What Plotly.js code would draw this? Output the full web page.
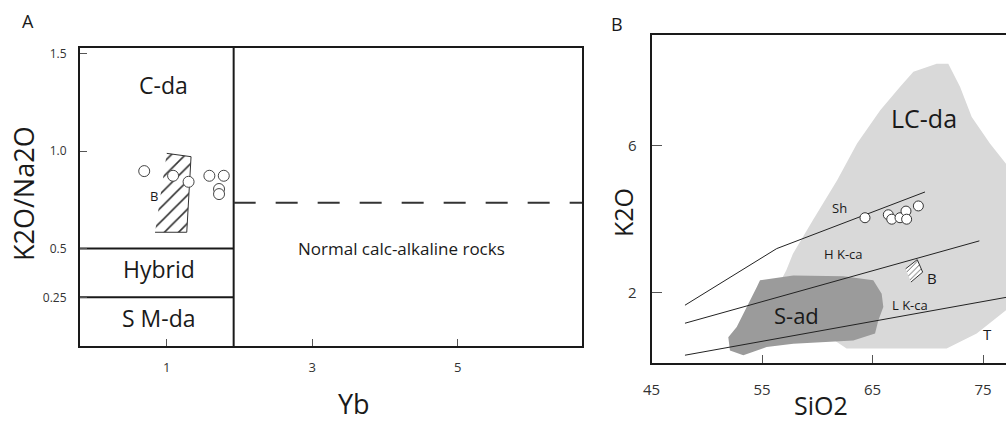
<!DOCTYPE html>
<html><head><meta charset="utf-8">
<script src="https://cdn.plot.ly/plotly-3.0.1.min.js"></script>
<style>html,body{margin:0;padding:0;overflow:hidden;background:#fff;width:1006px;height:423px}#chart{width:1050px;height:423px}</style>
</head><body><div id="chart"></div><script>
// ---------- Panel A : K2O/Na2O vs Yb ----------
const aYbBreak = 1.92;
const aRatioBounds = [0.25, 0.5];
const aDashLevel = 0.736;
const aFieldYb = [1.0, 1.334, 1.275, 0.839];
const aFieldRatio = [0.989, 0.972, 0.584, 0.584];
const aSampleYb = [0.69, 1.087, 1.30, 1.586, 1.784, 1.719, 1.719];
const aSampleRatio = [0.898, 0.874, 0.843, 0.874, 0.874, 0.806, 0.780];
const aYTickVals = [0.25, 0.5, 1.0, 1.5];
const aYTickText = ['0.25', '0.5', '1.0', '1.5'];
const aXTickVals = [1, 3, 5];
const aXTitle = 'Yb';
const aYTitle = 'K2O/Na2O';
const aLabels = ['C-da', 'Hybrid', 'S M-da', 'Normal calc-alkaline rocks', 'B'];
const aLabelYb = [0.953, 0.90, 0.90, 4.23, 0.83];
const aLabelRatio = [1.34, 0.397, 0.142, 0.50, 0.77];

// ---------- Panel B : K2O vs SiO2 ----------
const bLcdaSi = [70.81, 71.86, 72.92, 73.98, 75.63, 77.08, 78.3, 78.3, 77.08, 74.43, 71.71, 62.66, 60.0, 56.5, 57.2, 57.8, 59.6, 61.8, 63.6, 65.7, 67.5, 68.7];
const bLcdaK = [8.22, 8.22, 7.59, 6.77, 6.05, 5.50, 4.8, 2.1, 1.51, 0.88, 0.47, 0.47, 1.0, 2.2, 2.6, 3.05, 3.96, 5.05, 6.05, 6.95, 7.59, 8.0];
const bSadSi = [54.82, 57.83, 62.36, 65.07, 65.83, 65.98, 65.53, 65.23, 63.26, 57.83, 55.42, 53.31, 52.1, 51.95, 52.71, 53.62, 54.52];
const bSadK = [2.33, 2.46, 2.44, 2.33, 1.96, 1.60, 1.24, 0.88, 0.69, 0.60, 0.51, 0.29, 0.42, 0.78, 1.06, 1.60, 2.14];
const bShSi = [48.03, 56.33, 69.75];
const bShK = [1.65, 3.19, 4.73];
const bHkSi = [48.03, 74.67];
const bHkK = [1.16, 3.40];
const bLkSi = [48.03, 78.5];
const bLkK = [0.29, 1.94];
const bFieldSi = [68.0, 69.05, 69.54, 68.48];
const bFieldK = [2.64, 2.89, 2.55, 2.28];
const bSampleSi = [64.32, 66.43, 66.74, 67.49, 68.03, 68.09, 69.15];
const bSampleK = [4.03, 4.11, 3.99, 4.03, 4.21, 3.99, 4.35];
const bXTickVals = [45, 55, 65, 75];
const bYTickVals = [2, 6];
const bXTitle = 'SiO2';
const bYTitle = 'K2O';
const bLabels = ['LC-da', 'S-ad', 'Sh', 'H K-ca', 'L K-ca', 'T', 'B'];
const bLabelSi = [69.7, 58.08, 61.97, 62.4, 68.39, 75.39, 70.36];
const bLabelK = [6.73, 1.39, 4.30, 3.03, 1.65, 0.88, 2.40];

const W = 1050, H = 423;
const FONT = 'Open Sans, Noto Sans, sans-serif';
const INK = '#1a1a1a';

const aXRange = [-0.193, 6.71], aYRange = [0, 1.53];
const bXRange = [45, 79], bYRange = [0.07, 9.0];

const traces = [];
// A: region boundaries
traces.push({x: [aYbBreak, aYbBreak], y: aYRange, xaxis: 'x', yaxis: 'y', mode: 'lines',
  line: {color: INK, width: 2}, hoverinfo: 'skip', showlegend: false});
const hx = [], hy = [];
aRatioBounds.forEach(v => { hx.push(aXRange[0], aYbBreak, null); hy.push(v, v, null); });
traces.push({x: hx, y: hy, xaxis: 'x', yaxis: 'y', mode: 'lines',
  line: {color: INK, width: 2}, hoverinfo: 'skip', showlegend: false});
traces.push({x: [aYbBreak, aXRange[1]], y: [aDashLevel, aDashLevel], xaxis: 'x', yaxis: 'y', mode: 'lines',
  line: {color: '#333', width: 2, dash: '22px,20px'}, hoverinfo: 'skip', showlegend: false});
// A: hatched field B
traces.push({x: aFieldYb, y: aFieldRatio, xaxis: 'x', yaxis: 'y', mode: 'lines', fill: 'toself',
  fillcolor: 'white', fillpattern: {shape: '/', size: 10, solidity: 0.16, fgcolor: '#333', bgcolor: 'white'},
  line: {color: '#333', width: 1}, hoverinfo: 'skip', showlegend: false});
// A: samples
traces.push({x: aSampleYb, y: aSampleRatio, xaxis: 'x', yaxis: 'y', mode: 'markers',
  marker: {symbol: 'circle', size: 11, color: 'white', line: {color: '#444', width: 1}}, showlegend: false});

// B: fields
traces.push({x: bLcdaSi, y: bLcdaK, xaxis: 'x2', yaxis: 'y2', mode: 'none', fill: 'toself',
  fillcolor: '#d9d9d9', hoverinfo: 'skip', showlegend: false});
traces.push({x: bSadSi, y: bSadK, xaxis: 'x2', yaxis: 'y2', mode: 'none', fill: 'toself',
  fillcolor: '#9b9b9b', hoverinfo: 'skip', showlegend: false});
// B: series boundary lines
[[bShSi, bShK], [bHkSi, bHkK], [bLkSi, bLkK]].forEach(([xs, ys]) => {
  traces.push({x: xs, y: ys, xaxis: 'x2', yaxis: 'y2', mode: 'lines',
    line: {color: '#222', width: 1}, hoverinfo: 'skip', showlegend: false});
});
// B: hatched field B
traces.push({x: bFieldSi, y: bFieldK, xaxis: 'x2', yaxis: 'y2', mode: 'lines', fill: 'toself',
  fillcolor: 'white', fillpattern: {shape: '/', size: 4, solidity: 0.2, fgcolor: '#444', bgcolor: 'white'},
  line: {color: '#333', width: 1}, hoverinfo: 'skip', showlegend: false});
// B: samples
traces.push({x: bSampleSi, y: bSampleK, xaxis: 'x2', yaxis: 'y2', mode: 'markers',
  marker: {symbol: 'circle', size: 10, color: 'white', line: {color: '#333', width: 1}}, showlegend: false});

const aSizes = [23, 23, 23, 17, 13];
const bSizes = [25, 22, 13, 13, 13, 15, 15];
const annotations = [];
aLabels.forEach((t, i) => annotations.push({x: aLabelYb[i], y: aLabelRatio[i], xref: 'x', yref: 'y', text: t,
  showarrow: false, font: {family: FONT, size: aSizes[i], color: '#1a1a1a'}}));
bLabels.forEach((t, i) => annotations.push({x: bLabelSi[i], y: bLabelK[i], xref: 'x2', yref: 'y2', text: t,
  showarrow: false, font: {family: FONT, size: bSizes[i], color: '#1a1a1a'}}));
function paperNote(text, px, py, size, angle, anchorY) {
  annotations.push({x: px / W, y: 1 - py / H, xref: 'paper', yref: 'paper', text: text, showarrow: false,
    xanchor: 'center', yanchor: anchorY || 'middle', textangle: angle || 0, borderpad: 0,
    font: {family: FONT, size: size, color: '#1a1a1a'}});
}
// panel letters and axis titles
paperNote('A', 28, 21, 18);
paperNote('B', 617, 24, 18);
paperNote(aXTitle, 354, 403, 27);
paperNote(aYTitle, 23, 194, 27, -90);
paperNote(bXTitle, 821, 423, 25, 0, 'bottom');
paperNote(bYTitle, 623, 213, 25, -90);

const axBase = {showgrid: false, zeroline: false, showline: true, mirror: true, linecolor: INK, linewidth: 2,
  ticks: 'inside', tickcolor: '#555', tickwidth: 1, automargin: false};

const layout = {
  width: W, height: H, margin: {l: 0, r: 0, t: 0, b: 0},
  paper_bgcolor: 'white', plot_bgcolor: 'rgba(0,0,0,0)', showlegend: false,
  font: {family: FONT, color: '#333'},
  xaxis: Object.assign({}, axBase, {domain: [80 / W, 582 / W], range: aXRange, tickvals: aXTickVals, ticklen: 7,
    tickfont: {size: 13, color: '#333'}, ticklabelstandoff: 8, anchor: 'y'}),
  yaxis: Object.assign({}, axBase, {domain: [1 - 346 / H, 1 - 48 / H], range: aYRange, tickvals: aYTickVals,
    ticktext: aYTickText, ticklen: 7, tickfont: {size: 12, color: '#333'}, ticklabelstandoff: 9, anchor: 'x'}),
  xaxis2: Object.assign({}, axBase, {domain: [651.5 / W, (651.5 + 34 * 11.05) / W], range: bXRange,
    tickvals: bXTickVals, ticklen: 8, tickfont: {size: 15, color: '#333'}, ticklabelstandoff: 12, anchor: 'y2'}),
  yaxis2: Object.assign({}, axBase, {domain: [1 - 363.3 / H, 1 - 35 / H], range: bYRange, tickvals: bYTickVals,
    ticklen: 10, tickfont: {size: 15, color: '#333'}, ticklabelstandoff: 10, anchor: 'x2'}),
  annotations: annotations
};

Plotly.newPlot('chart', traces, layout, {staticPlot: true, displayModeBar: false});
</script></body></html>
